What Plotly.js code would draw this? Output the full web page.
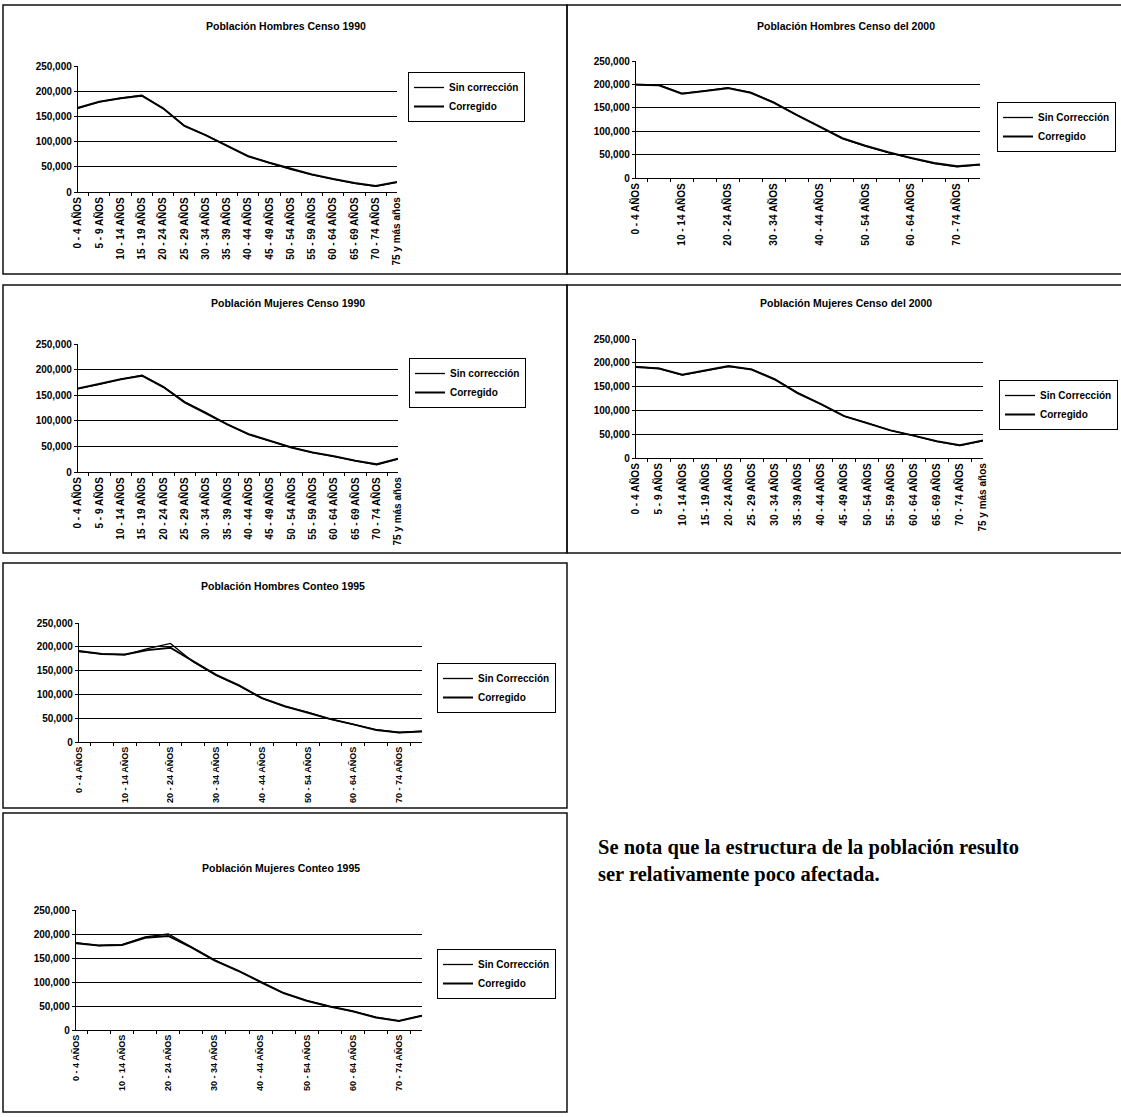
<!DOCTYPE html>
<html>
<head>
<meta charset="utf-8">
<script src="https://cdn.plot.ly/plotly-3.0.1.min.js"></script>
<style>html,body{margin:0;padding:0;background:#fff;}#chart{width:1121px;height:1117px;}</style>
</head>
<body>
<div id="chart"></div>
<script>
// ---------------- DATA ----------------
const AGE_GROUPS = ['0 - 4 AÑOS','5 - 9 AÑOS','10 - 14 AÑOS','15 - 19 AÑOS','20 - 24 AÑOS','25 - 29 AÑOS','30 - 34 AÑOS','35 - 39 AÑOS','40 - 44 AÑOS','45 - 49 AÑOS','50 - 54 AÑOS','55 - 59 AÑOS','60 - 64 AÑOS','65 - 69 AÑOS','70 - 74 AÑOS','75 y más años'];

const TITLES = ['Población Hombres Censo 1990','Población Hombres Censo del 2000','Población Mujeres Censo 1990','Población Mujeres Censo del 2000','Población Hombres Conteo 1995','Población Mujeres Conteo 1995'];
const NAMES_SIN = ['Sin corrección','Sin Corrección','Sin corrección','Sin Corrección','Sin Corrección','Sin Corrección'];
const NAMES_COR = ['Corregido','Corregido','Corregido','Corregido','Corregido','Corregido'];

const HOM_1990_SIN = [166000,179000,186000,192000,166000,132000,113000,92000,71000,58000,45000,34000,26000,17000,11000,19000];
const HOM_1990_COR = [167000,179000,186000,191000,166000,131000,113000,92000,71000,58000,46000,35000,26000,18000,12000,20000];
const HOM_2000_SIN = [200000,199000,181000,186000,193000,183000,162000,135000,110000,84000,68000,54000,42000,31000,24000,28000];
const HOM_2000_COR = [199000,198000,180000,186000,192000,182000,161000,135000,110000,85000,69000,55000,43000,32000,25000,29000];
const MUJ_1990_SIN = [163000,171000,181000,189000,167000,137000,116000,93000,73000,60000,48000,38000,30000,22000,14000,25000];
const MUJ_1990_COR = [163000,172000,181000,188000,166000,136000,115000,93000,74000,61000,48000,38000,31000,22000,15000,26000];
const MUJ_2000_SIN = [192000,188000,174000,183000,192000,186000,166000,137000,113000,88000,74000,58000,47000,35000,26000,36000];
const MUJ_2000_COR = [191000,188000,175000,184000,193000,186000,165000,136000,113000,88000,73000,58000,47000,35000,27000,37000];
const HOM_1995_SIN = [190000,185000,183000,196000,207000,168000,140000,118000,92000,75000,63000,48000,37000,26000,20000,23000];
const HOM_1995_COR = [191000,185000,184000,193000,198000,169000,141000,119000,92000,75000,62000,48000,37000,25000,20000,22000];
const MUJ_1995_SIN = [182000,176000,178000,194000,200000,173000,146000,124000,100000,77000,61000,49000,39000,27000,19000,30000];
const MUJ_1995_COR = [181000,176000,177000,192000,196000,172000,145000,124000,100000,77000,61000,49000,39000,26000,19000,30000];

const SERIES_SIN = [HOM_1990_SIN, HOM_2000_SIN, MUJ_1990_SIN, MUJ_2000_SIN, HOM_1995_SIN, MUJ_1995_SIN];
const SERIES_COR = [HOM_1990_COR, HOM_2000_COR, MUJ_1990_COR, MUJ_2000_COR, HOM_1995_COR, MUJ_1995_COR];

const NOTE_LINES = ['Se nota que la estructura de la población resulto', 'ser relativamente poco afectada.'];

// ---------------- LAYOUT GEOMETRY (pixels) ----------------
const W = 1121, H = 1117;
const PANELS = [
  {fx:[3,567],    fy:[5,274],    px:[78,397],  py:[66,192],   lg:[408,72],  tt:[286,26],  every:1, tf:10},
  {fx:[567,1125], fy:[5,274],    px:[636,980], py:[61,178],   lg:[997,102], tt:[846,26],  every:2, tf:10},
  {fx:[3,567],    fy:[285,553],  px:[78,398],  py:[344,472],  lg:[409,358], tt:[288,303], every:1, tf:10},
  {fx:[567,1125], fy:[285,553],  px:[636,983], py:[339,458],  lg:[999,380], tt:[846,303], every:1, tf:10},
  {fx:[3,567],    fy:[563,808],  px:[79,422],  py:[623,742],  lg:[437,663], tt:[283,586], every:2, tf:9},
  {fx:[3,567],    fy:[813,1112], px:[76,422],  py:[910,1030], lg:[437,949], tt:[281,868], every:2, tf:9}
];

const FONT = 'Liberation Sans, Arial, sans-serif';
const traces = [];
const layout = {
  width: W, height: H,
  margin: {l:0, r:0, t:0, b:0},
  paper_bgcolor: '#fff', plot_bgcolor: 'rgba(0,0,0,0)',
  showlegend: true,
  shapes: [], annotations: []
};

PANELS.forEach((p, k) => {
  const n = k === 0 ? '' : String(k + 1);
  const xa = 'x' + n, ya = 'y' + n, lgName = 'legend' + n;
  traces.push({
    type: 'scatter', mode: 'lines', x: AGE_GROUPS, y: SERIES_SIN[k], name: NAMES_SIN[k],
    xaxis: xa, yaxis: ya, legend: lgName,
    line: {color: '#000', width: 1.3}, hoverinfo: 'skip'
  });
  traces.push({
    type: 'scatter', mode: 'lines', x: AGE_GROUPS, y: SERIES_COR[k], name: NAMES_COR[k],
    xaxis: xa, yaxis: ya, legend: lgName,
    line: {color: '#000', width: 2}, hoverinfo: 'skip'
  });
  layout['xaxis' + n] = {
    domain: [p.px[0] / W, p.px[1] / W], anchor: ya,
    type: 'category', categoryorder: 'array', categoryarray: AGE_GROUPS,
    tickmode: 'array', tickvals: AGE_GROUPS,
    ticktext: AGE_GROUPS.map((c, i) => (i % p.every ? '' : c)),
    tickson: 'boundaries', ticks: 'outside', ticklen: 3, tickcolor: '#000', tickwidth: 1,
    showline: true, linecolor: '#000', linewidth: 1.2,
    showgrid: false, zeroline: false, tickangle: -90,
    tickfont: {family: FONT, size: p.tf, color: '#000', weight: 'bold'},
    fixedrange: true
  };
  layout['yaxis' + n] = {
    domain: [1 - p.py[1] / H, 1 - p.py[0] / H], anchor: xa,
    range: [0, 250000], tickmode: 'linear', tick0: 0, dtick: 50000, tickformat: ',d',
    ticks: 'outside', ticklen: 3, tickcolor: '#000',
    showline: true, linecolor: '#000', linewidth: 1.2,
    showgrid: true, gridcolor: '#000', gridwidth: 1, zeroline: false,
    tickfont: {family: FONT, size: 10, color: '#000', weight: 'bold'},
    fixedrange: true
  };
  layout[lgName] = {
    x: p.lg[0] / W, y: 1 - p.lg[1] / H, xanchor: 'left', yanchor: 'top',
    xref: 'paper', yref: 'paper',
    bgcolor: '#fff', bordercolor: '#000', borderwidth: 1,
    font: {family: FONT, size: 10, color: '#000', weight: 'bold'},
    itemwidth: 30, tracegroupgap: 0, traceorder: 'normal'
  };
  layout.shapes.push({
    type: 'rect', xref: 'paper', yref: 'paper',
    x0: p.fx[0] / W, x1: p.fx[1] / W, y0: 1 - p.fy[1] / H, y1: 1 - p.fy[0] / H,
    line: {color: '#111', width: 1.5}, fillcolor: 'rgba(0,0,0,0)'
  });
  layout.annotations.push({
    text: TITLES[k], xref: 'paper', yref: 'paper', x: p.tt[0] / W, y: 1 - p.tt[1] / H,
    xanchor: 'center', yanchor: 'middle', showarrow: false,
    font: {family: FONT, size: 10.5, color: '#000', weight: 'bold'}
  });
});

layout.annotations.push({
  text: NOTE_LINES.join('<br>'), xref: 'paper', yref: 'paper', x: 596 / W, y: 1 - 834 / H,
  xanchor: 'left', yanchor: 'top', align: 'left', showarrow: false,
  font: {family: 'Liberation Serif, Times New Roman, serif', size: 20.5, color: '#000', weight: 'bold'}
});

Plotly.newPlot('chart', traces, layout, {displayModeBar: false, staticPlot: true});
</script>
</body>
</html>
